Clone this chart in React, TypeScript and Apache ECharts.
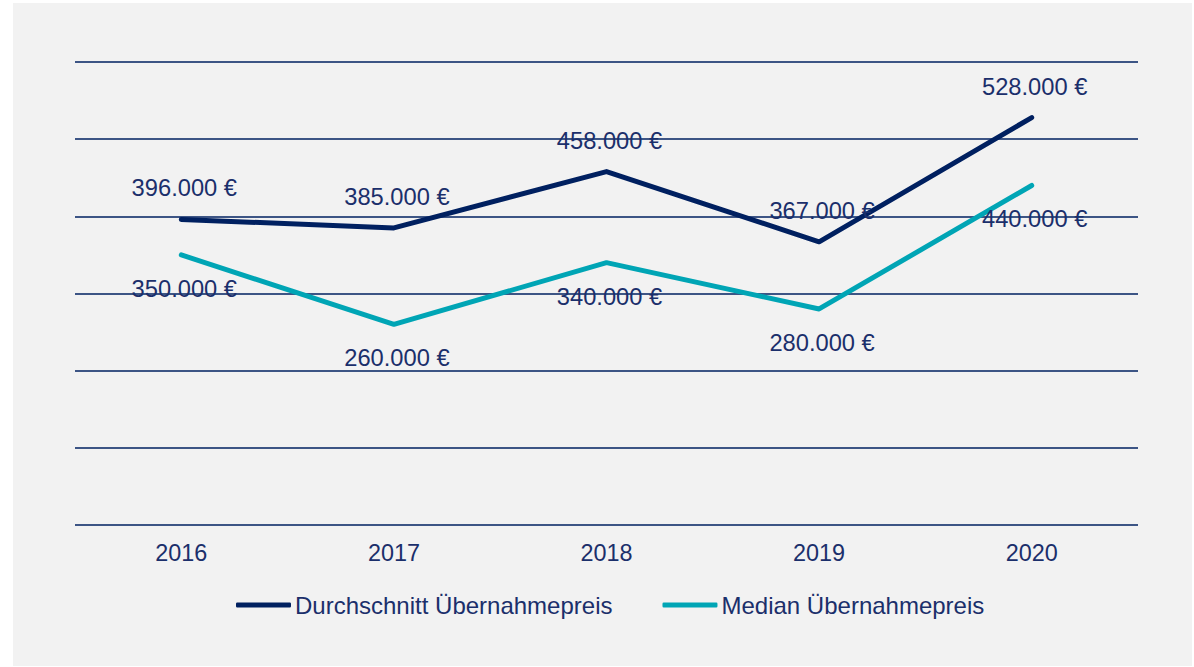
import React, { useEffect, useRef } from "react";
import * as echarts from "echarts";

const years = ["2016", "2017", "2018", "2019", "2020"];
const avgValues = [396000, 385000, 458000, 367000, 528000];
const medianValues = [350000, 260000, 340000, 280000, 440000];
const seriesNames = ["Durchschnitt Übernahmepreis", "Median Übernahmepreis"];

const NAVY = "#002060";
const TEAL = "#00a5b5";
const TEXT = "#1b2f6b";
const FONT = "'Liberation Sans', Arial, sans-serif";

const fmt = (v: number) =>
  String(v).replace(/\B(?=(\d{3})+(?!\d))/g, ".") + " €";

export default function App() {
  const ref = useRef<HTMLDivElement>(null);
  useEffect(() => {
    if (!ref.current) return;
    const chart = echarts.init(ref.current, null, { renderer: "svg" });
    chart.setOption({
      animation: false,
      backgroundColor: "#f2f2f2",
      textStyle: { fontFamily: FONT },
      grid: { left: 62, right: 54, top: 59, bottom: 141 },
      xAxis: {
        type: "category",
        data: years,
        boundaryGap: true,
        axisLine: { show: false },
        axisTick: { show: false },
        axisLabel: { color: TEXT, fontSize: 23.4, fontFamily: FONT, margin: 16 },
      },
      yAxis: {
        type: "value",
        min: 0,
        max: 600000,
        interval: 100000,
        axisLabel: { show: false },
        axisLine: { show: false },
        axisTick: { show: false },
        splitLine: { lineStyle: { color: NAVY, width: 1.5 } },
      },
      legend: {
        bottom: 44,
        left: 218,
        itemWidth: 55,
        itemHeight: 5,
        itemGap: 50,
        icon: "roundRect",
        textStyle: { color: TEXT, fontSize: 24, fontFamily: FONT, padding: [0, 0, 0, -1] },
        data: seriesNames,
      },
      series: [
        {
          name: seriesNames[0],
          type: "line",
          data: avgValues,
          symbol: "circle",
          symbolSize: 0,
          showSymbol: true,
          itemStyle: { color: NAVY },
          lineStyle: { color: NAVY, width: 5, cap: "round", join: "round" },
          label: {
            show: true,
            position: "top",
            distance: 19,
            offset: [3, 0],
            color: TEXT,
            fontSize: 23.7,
            fontFamily: FONT,
            formatter: (p: any) => fmt(p.value),
          },
          z: 3,
        },
        {
          name: seriesNames[1],
          type: "line",
          data: medianValues,
          symbol: "circle",
          symbolSize: 0,
          showSymbol: true,
          itemStyle: { color: TEAL },
          lineStyle: { color: TEAL, width: 5, cap: "round", join: "round" },
          label: {
            show: true,
            position: "bottom",
            distance: 22,
            offset: [3, 0],
            color: TEXT,
            fontSize: 23.7,
            fontFamily: FONT,
            formatter: (p: any) => fmt(p.value),
          },
          z: 2,
        },
      ],
    });
    return () => chart.dispose();
  }, []);
  return (
    <div style={{ position: "fixed", left: 0, top: 0, width: 1194, height: 667, background: "#fff" }}>
      <div ref={ref} style={{ position: "absolute", left: 13, top: 3, width: 1179, height: 663 }} />
    </div>
  );
}
